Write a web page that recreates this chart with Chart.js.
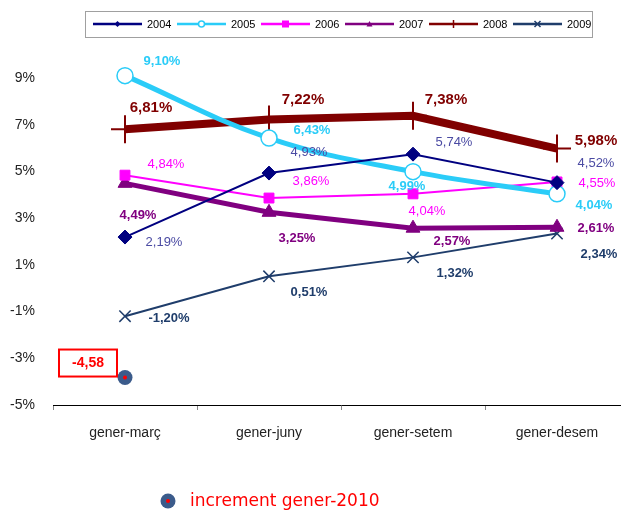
<!DOCTYPE html>
<html>
<head>
<meta charset="utf-8">
<script src="https://cdn.jsdelivr.net/npm/chart.js@4/dist/chart.umd.min.js"></script>
<style>
  html, body { margin: 0; padding: 0; background: #fff; overflow: hidden; }
  #wrap { width: 660px; height: 512px; }
</style>
</head>
<body>
<div id="wrap"><canvas id="chart" width="660" height="512"></canvas></div>
<script>
// data
const categories = ['gener-març', 'gener-juny', 'gener-setem', 'gener-desem'];
const years = ['2004', '2005', '2006', '2007', '2008', '2009'];
const v2004 = [2.19, 4.93, 5.74, 4.52];
const v2005 = [9.10, 6.43, 4.99, 4.04];
const v2006 = [4.84, 3.86, 4.04, 4.55];
const v2007 = [4.49, 3.25, 2.57, 2.61];
const v2008 = [6.81, 7.22, 7.38, 5.98];
const v2009 = [-1.20, 0.51, 1.32, 2.34];
const increment2010 = [-4.58, null, null, null];
const incrementLabel = 'increment gener-2010';
const yTicks = [-5, -3, -1, 1, 3, 5, 7, 9];

const seriesValues = [v2004, v2005, v2006, v2007, v2008, v2009];

// looks
const styles = [
  { color: '#000080', width: 2, point: 'rectRot', radius: 7, bw: 1, label: '#4B4BA3', bold: false, size: 13 },
  { color: '#2ACCF8', width: 5, point: 'circle', radius: 8, bw: 1.5, label: '#2ACCF8', bold: true, size: 13, tension: 0.4 },
  { color: '#FF00FF', width: 2, point: 'rect', radius: 7, bw: 1, label: '#FF00FF', bold: false, size: 13 },
  { color: '#800080', width: 5, point: 'triangle', radius: 8, bw: 1, label: '#800080', bold: true, size: 13 },
  { color: '#800000', width: 8, point: 'cross', radius: 14, bw: 2, label: '#800000', bold: true, size: 15 },
  { color: '#1F3D6B', width: 2, point: 'crossRot', radius: 8, bw: 1.5, label: '#1F3D6B', bold: true, size: 13 }
];
// label offsets from each point, in px
const labelOffsets = [
  [[39, 5], [40, -21], [41, -12], [39, -19]],
  [[37, -14], [43, -8], [-6, 15], [37, 12]],
  [[41, -11], [42, -17], [14, 18], [40, 1]],
  [[13, 32], [28, 26], [39, 13], [39, 1]],
  [[26, -21], [34, -20], [33, -16], [39, -8]],
  [[44, 2], [40, 16], [42, 16], [42, 21]]
];

const FONT = '"Liberation Sans", Arial, sans-serif';
const fmt = v => v.toFixed(2).replace('.', ',') + '%';

const datasets = seriesValues.map((vals, i) => {
  const s = styles[i];
  return {
    label: years[i],
    data: vals,
    borderColor: s.color,
    borderWidth: s.width,
    pointStyle: s.point,
    pointRadius: s.radius,
    pointHoverRadius: s.radius,
    pointBackgroundColor: s.point === 'circle' ? '#fff' : s.color,
    pointBorderColor: s.color,
    pointBorderWidth: s.bw,
    tension: s.tension || 0,
    fill: false,
    clip: false,
    yAxisID: 'y'
  };
});
datasets.push({
  label: incrementLabel,
  data: increment2010,
  showLine: false,
  pointStyle: 'circle',
  pointRadius: 7.5,
  pointHoverRadius: 7.5,
  pointBackgroundColor: '#3B5B8B',
  pointBorderWidth: 0,
  clip: false,
  yAxisID: 'y2'
});

function drawMarker(ctx, style, x, y, r, color) {
  ctx.save();
  ctx.fillStyle = color;
  ctx.strokeStyle = color;
  ctx.lineWidth = 1.5;
  ctx.beginPath();
  if (style === 'rectRot') {
    ctx.moveTo(x, y - r); ctx.lineTo(x + r, y); ctx.lineTo(x, y + r); ctx.lineTo(x - r, y);
    ctx.closePath(); ctx.fill();
  } else if (style === 'circle') {
    ctx.arc(x, y, r, 0, Math.PI * 2); ctx.fillStyle = '#fff'; ctx.fill(); ctx.stroke();
  } else if (style === 'rect') {
    ctx.fillRect(x - r, y - r, 2 * r, 2 * r);
  } else if (style === 'triangle') {
    ctx.moveTo(x, y - r); ctx.lineTo(x + r, y + r * 0.8); ctx.lineTo(x - r, y + r * 0.8);
    ctx.closePath(); ctx.fill();
  } else if (style === 'cross') {
    ctx.moveTo(x, y - r); ctx.lineTo(x, y + r); ctx.moveTo(x - r, y); ctx.lineTo(x + r, y); ctx.stroke();
  } else if (style === 'crossRot') {
    ctx.moveTo(x - r, y - r); ctx.lineTo(x + r, y + r); ctx.moveTo(x + r, y - r); ctx.lineTo(x - r, y + r); ctx.stroke();
  }
  ctx.restore();
}

const extras = {
  id: 'extras',
  afterDatasetsDraw(chart) {
    const ctx = chart.ctx;
    ctx.save();
    // value labels
    seriesValues.forEach((vals, i) => {
      const meta = chart.getDatasetMeta(i);
      const s = styles[i];
      ctx.font = (s.bold ? 'bold ' : '') + s.size + 'px ' + FONT;
      ctx.fillStyle = s.label;
      ctx.textAlign = 'center';
      ctx.textBaseline = 'middle';
      vals.forEach((v, j) => {
        const p = meta.data[j];
        const o = labelOffsets[i][j];
        ctx.fillText(fmt(v), p.x + o[0], p.y + o[1]);
      });
    });
    // increment point: red centre, boxed label
    const im = chart.getDatasetMeta(seriesValues.length);
    const ip = im.data[0];
    ctx.fillStyle = '#FF0000';
    ctx.beginPath(); ctx.arc(ip.x, ip.y, 2, 0, Math.PI * 2); ctx.fill();
    const bx = ip.x - 66, by = ip.y - 28;
    ctx.fillStyle = '#fff';
    ctx.fillRect(bx, by, 58, 27);
    ctx.strokeStyle = '#FF0000';
    ctx.lineWidth = 2;
    ctx.strokeRect(bx, by, 58, 27);
    ctx.fillStyle = '#FF0000';
    ctx.font = 'bold 14px ' + FONT;
    ctx.textAlign = 'center';
    ctx.textBaseline = 'middle';
    ctx.fillText(increment2010[0].toFixed(2).replace('.', ','), bx + 29, by + 14);
    ctx.restore();
  },
  afterDraw(chart) {
    const ctx = chart.ctx;
    ctx.save();
    // top legend
    ctx.strokeStyle = '#A0A0A0';
    ctx.lineWidth = 1;
    ctx.strokeRect(85.5, 11.5, 507, 26);
    ctx.font = '11px ' + FONT;
    ctx.textBaseline = 'middle';
    ctx.textAlign = 'left';
    years.forEach((y, i) => {
      const x0 = 93 + i * 84, yy = 24;
      const s = styles[i];
      ctx.strokeStyle = s.color;
      ctx.lineWidth = 2.5;
      ctx.beginPath(); ctx.moveTo(x0, yy); ctx.lineTo(x0 + 49, yy); ctx.stroke();
      const r = s.point === 'rect' ? 3.5 : (s.point === 'cross' ? 4 : 3);
      drawMarker(ctx, s.point, x0 + 24.5, yy, r, s.color);
      ctx.fillStyle = '#000';
      ctx.fillText(y, x0 + 54, yy + 1);
    });
    // bottom legend
    ctx.fillStyle = '#3B5B8B';
    ctx.beginPath(); ctx.arc(168, 501, 7.5, 0, Math.PI * 2); ctx.fill();
    ctx.fillStyle = '#FF0000';
    ctx.beginPath(); ctx.arc(168, 501, 2, 0, Math.PI * 2); ctx.fill();
    ctx.font = '17px "DejaVu Sans", Verdana, sans-serif';
    ctx.fillText(incrementLabel, 190, 502);
    ctx.restore();
  }
};

new Chart(document.getElementById('chart'), {
  type: 'line',
  data: { labels: categories, datasets: datasets },
  options: {
    responsive: false,
    animation: false,
    events: [],
    layout: { padding: { top: 78, right: 31, bottom: 0, left: 0 } },
    plugins: { legend: { display: false }, tooltip: { enabled: false } },
    scales: {
      x: {
        offset: true,
        afterFit: s => { s.height = 107; },
        grid: { offset: true, drawOnChartArea: false, drawTicks: true, tickLength: 5, color: '#888' },
        border: { display: true, color: '#000', width: 1 },
        ticks: { color: '#222', font: { family: FONT, size: 14 }, padding: 15, maxRotation: 0 }
      },
      y: {
        min: -5, max: 9,
        afterFit: s => { s.width = 53; },
        afterBuildTicks: s => { s.ticks = yTicks.map(v => ({ value: v })); },
        grid: { display: false, drawTicks: false },
        border: { display: false },
        ticks: { color: '#222', font: { family: FONT, size: 14 }, padding: 18, callback: v => v + '%' }
      },
      y2: { display: false, min: -5, max: 0 }
    }
  },
  plugins: [extras]
});
</script>
</body>
</html>
